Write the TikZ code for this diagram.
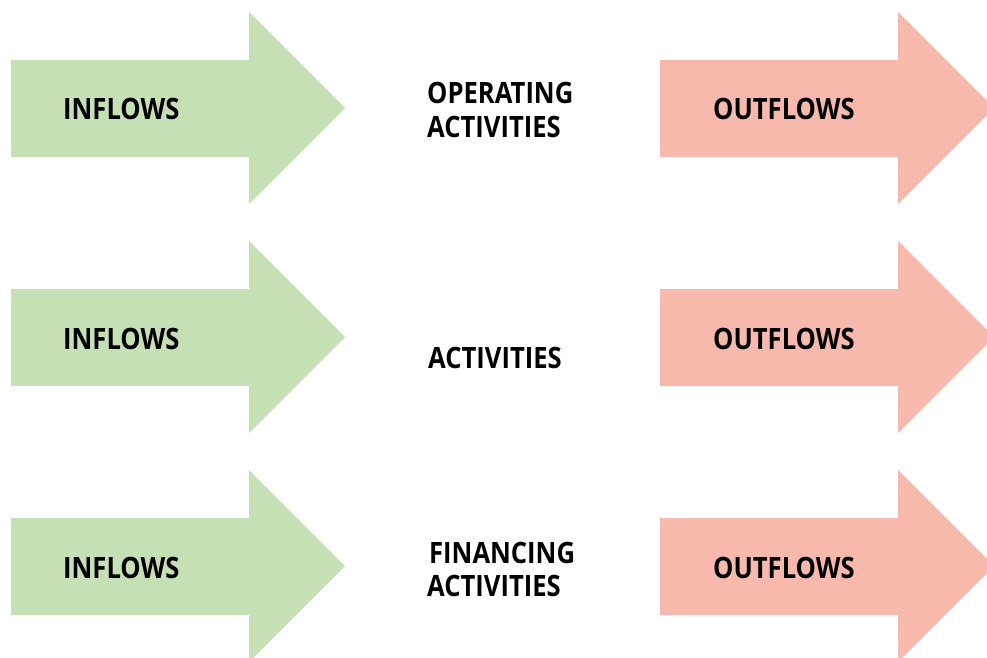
\documentclass[tikz,border=0pt]{standalone}
\usepackage{fontspec}
\setmainfont{Open Sans}[FakeStretch=0.87]
\definecolor{ingreen}{HTML}{C5E0B4}
\definecolor{outred}{HTML}{F7B9AC}
\begin{document}
\begin{tikzpicture}[x=1pt,y=-1pt,
  lbl/.style={inner sep=0pt,anchor=base west,font=\fontsize{29.4}{33}\selectfont\bfseries}]
\useasboundingbox (0,0) rectangle (987,658);
\clip (0,0) rectangle (987,658);
\foreach \r/\dy in {1/0,2/229,3/458}{
  \begin{scope}[yshift=-\dy pt]
  \fill[ingreen] (11,60) -- (249,60) -- (249,12) -- (345,108) -- (249,204) -- (249,157) -- (11,157) -- cycle;
  \fill[outred] (660,60) -- (898,60) -- (898,12) -- (994,108) -- (898,204) -- (898,157) -- (660,157) -- cycle;
  \node[lbl] (in\r) at (63,120) {INFLOWS};
  \node[lbl] (out\r) at (713,120) {OUTFLOWS};
  \end{scope}
}
\node[lbl] (op1) at (427,103) {OPERATING};
\node[lbl] (op2) at (427,137) {ACTIVITIES};
\node[lbl] (inv) at (428,368) {ACTIVITIES};
\node[lbl] (fin1) at (429,563) {FINANCING};
\node[lbl] (fin2) at (427,596) {ACTIVITIES};
\end{tikzpicture}
\end{document}
